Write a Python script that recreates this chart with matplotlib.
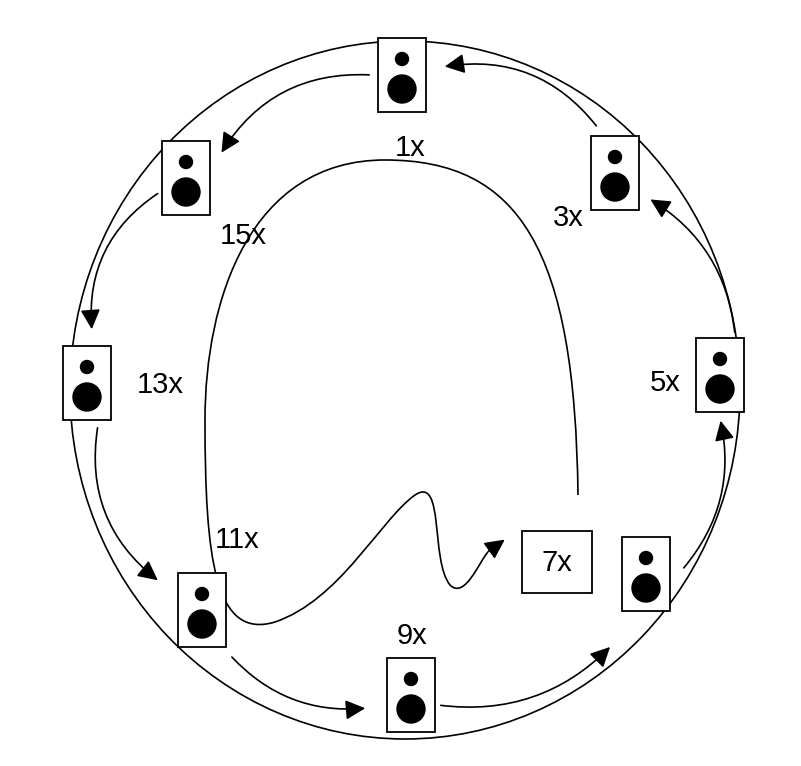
import matplotlib
matplotlib.use("Agg")
import matplotlib.pyplot as plt
from matplotlib.patches import Rectangle, Circle, Ellipse, FancyArrowPatch, PathPatch
from matplotlib.path import Path

labels = ["1x", "15x", "13x", "11x", "9x", "5x", "3x"]
speaker_centers = [(402, 75), (186, 178), (87, 383), (202, 610), (411, 695), (720, 375), (615, 173), (646, 574)]
label_pos = [(410, 148), (243, 236), (160, 385), (237, 540), (412, 636), (665, 383), (568, 218)]
arrows = [((372, 75), (220, 155), 0.3), ((160, 192), (92, 332), 0.3), ((98, 425), (160, 582), 0.3),
          ((230, 655), (368, 708), 0.25), ((438, 705), (612, 645), 0.25), ((682, 570), (720, 418), 0.25),
          ((735, 335), (648, 198), 0.25), ((598, 128), (442, 67), 0.3)]

fig = plt.figure(figsize=(8.01, 7.66), dpi=100)
ax = fig.add_axes([0, 0, 1, 1])
ax.set_xlim(0, 801); ax.set_ylim(766, 0); ax.axis("off")
font = dict(family=["Liberation Sans", "DejaVu Sans"], fontsize=21)

ax.add_patch(Ellipse((405, 390), 670, 698, fill=False, lw=1.2, color="black"))

for (cx, cy) in speaker_centers:
    ax.add_patch(Rectangle((cx - 24, cy - 37), 48, 74, fill=True, facecolor="white", edgecolor="black", lw=1.3, zorder=3))
    ax.add_patch(Circle((cx, cy - 16), 6.5, color="black", zorder=4))
    ax.add_patch(Circle((cx, cy + 14), 14, color="black", zorder=4))

for t, (x, y) in zip(labels, label_pos):
    ax.text(x, y, t, ha="center", va="center", zorder=5, **font)

ax.add_patch(Rectangle((522, 531), 70, 62, facecolor="white", edgecolor="black", lw=1.3, zorder=3))
ax.text(557, 563, "7x", ha="center", va="center", zorder=5, **font)

for (s, e, r) in arrows:
    ax.add_patch(FancyArrowPatch(s, e, connectionstyle=f"arc3,rad={r}", arrowstyle="-|>,head_length=12,head_width=6",
                                 color="black", lw=1.2, mutation_scale=1, zorder=2))

verts = [(578, 495), (575, 250), (520, 160), (385, 160),
         (250, 160), (205, 300), (205, 420),
         (205, 560), (215, 640), (275, 622),
         (340, 600), (380, 520), (415, 495),
         (445, 475), (430, 560), (450, 585),
         (465, 600), (480, 560), (488, 552)]
codes = [Path.MOVETO] + [Path.CURVE4] * 18
ax.add_patch(PathPatch(Path(verts, codes), fill=False, lw=1.2, zorder=2))
ax.add_patch(FancyArrowPatch((486, 553), (507, 538), arrowstyle="-|>,head_length=12,head_width=6",
                             color="black", lw=1.2, mutation_scale=1, zorder=2))

fig.savefig("out.png", dpi=100)
